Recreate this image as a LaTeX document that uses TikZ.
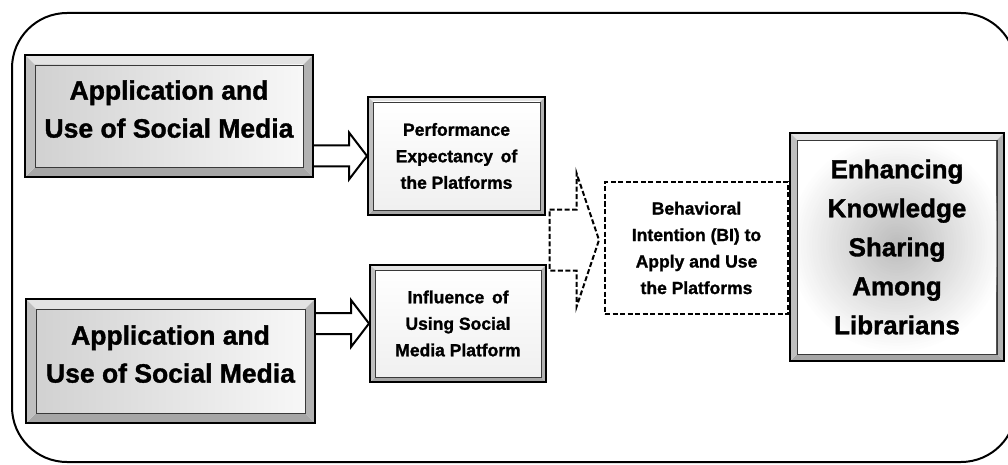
\documentclass[tikz,border=0pt]{standalone}
\usepackage{fontspec}
\setmainfont{Liberation Sans}
\newfontfamily\heavy[BoldFeatures={FakeBold=1.3}]{Liberation Sans}
\usetikzlibrary{calc}
\newcommand\bvl[6]{%
  \fill[gray!22] (#1,#2) -- (#3,#2) -- (#3-#5,#2+#5) -- (#1+#5,#2+#5) -- cycle;
  \fill[gray!70] (#1,#4) -- (#3,#4) -- (#3-#5,#4-#5) -- (#1+#5,#4-#5) -- cycle;
  \fill[gray!50] (#1,#2) -- (#1+#5,#2+#5) -- (#1+#5,#4-#5) -- (#1,#4) -- cycle;
  \fill[gray!60] (#3,#2) -- (#3-#5,#2+#5) -- (#3-#5,#4-#5) -- (#3,#4) -- cycle;
  \begin{scope}[y=1pt]
    \shade[#6] (#1+#5,-#2-#5) rectangle (#3-#5,-#4+#5);
  \end{scope}
  \draw[gray!45!black, line width=0.6pt] (#1+#5,#2+#5) rectangle (#3-#5,#4-#5);
}
\tikzset{
  boxframe/.style={draw=black, line width=2pt, align=center, inner sep=0pt},
  bigtext/.style={font=\heavy\bfseries\fontsize{26.5}{38}\selectfont},
  smalltext/.style={font=\heavy\bfseries\fontsize{17.5}{26.5}\selectfont},
  blockarrow/.style={draw=black, line width=2pt, fill=white, line join=miter},
  dashedline/.style={draw=black, line width=2pt, dash pattern=on 5pt off 2.5pt},
  outerframe/.style={draw=black, line width=2pt, rounded corners=55pt},
  glow/.style={path picture={
    \clip ($(path picture bounding box.south west)+(8,-8)$) rectangle ($(path picture bounding box.north east)+(-8,8)$);
    \fill[white] (path picture bounding box.south west) rectangle (path picture bounding box.north east);
    \foreach \k [evaluate=\k as \rr using 110-2.8*\k, evaluate=\k as \cc using 1.35*\k] in {0,...,38}
      {\fill[gray!\cc] ($(path picture bounding box.center)+(0,-3)$) circle (\rr);}
  }},
}
\begin{document}
\begin{tikzpicture}[x=1pt,y=-1pt]
\useasboundingbox (0,0) rectangle (1008,465);
\fill[white] (0,0) rectangle (1008,465);
\draw[outerframe] (12,13) rectangle (1016,462);

% bevel decorations
\bvl{25}{55}{313}{177}{10}{left color=gray!36, right color=gray!6}
\bvl{26}{299}{315}{423}{10}{left color=gray!36, right color=gray!6}
\bvl{368}{97}{545}{215}{5}{top color=white, bottom color=gray!12}
\bvl{370}{265}{546}{382}{5}{top color=white, bottom color=gray!12}
\bvl{790}{133}{1004}{361}{8}{top color=white, bottom color=white}

% nodes
\node[boxframe, bigtext, minimum width=288pt, minimum height=122pt, text depth=14pt] (a1) at (169,116)
  {Application and\\Use of Social Media};
\node[boxframe, bigtext, minimum width=289pt, minimum height=124pt, text depth=14pt] (a2) at (170.5,361)
  {Application and\\Use of Social Media};
\node[boxframe, smalltext, minimum width=177pt, minimum height=118pt] (p) at (456.5,156)
  {Performance\\Expectancy\, of\\the Platforms};
\node[boxframe, smalltext, minimum width=176pt, minimum height=117pt] (i) at (458,323.5)
  {Influence\, of\\Using Social\\Media Platform};
\node[dashedline, smalltext, align=center, inner sep=0pt, fill=white,
      minimum width=183pt, minimum height=132pt] (b) at (696.5,248)
  {Behavioral\\Intention (BI) to\\Apply and Use\\the Platforms};
\node[boxframe, glow, font=\heavy\bfseries\fontsize{26}{39}\selectfont, minimum width=214pt, minimum height=228pt] (e) at (897,247)
  {Enhancing\\Knowledge\\Sharing\\Among\\Librarians};
\draw[gray!45!black, line width=0.6pt] ($(e.south west)+(8,-8)$) rectangle ($(e.north east)+(-8,8)$);

% block arrows
\coordinate (s1) at (a1.east |- p.west);
\coordinate (h1) at ($(p.west)+(-18,0)$);
\draw[blockarrow] ($(s1)+(0,-10.5)$) -- ($(h1)+(0,-10.5)$) -- ($(h1)+(0,-23.5)$) -- (p.west)
  -- ($(h1)+(0,23.5)$) -- ($(h1)+(0,10.5)$) -- ($(s1)+(0,10.5)$);
\coordinate (s2) at (a2.east |- i.west);
\coordinate (h2) at ($(i.west)+(-18,0)$);
\draw[blockarrow] ($(s2)+(0,-10.5)$) -- ($(h2)+(0,-10.5)$) -- ($(h2)+(0,-23.5)$) -- (i.west)
  -- ($(h2)+(0,23.5)$) -- ($(h2)+(0,10.5)$) -- ($(s2)+(0,10.5)$);

% dashed merged arrow
\coordinate (m) at ($(p.south east)!0.5!(i.north east)$);
\coordinate (dtip) at ($(m -| b.west)+(-5,0)$);
\draw[dashedline, fill=white] ($(m)+(3,-30.5)$) -- ($(m)+(30,-30.5)$) -- ($(m)+(30,-67)$) -- (dtip)
  -- ($(m)+(30,67)$) -- ($(m)+(30,30.5)$) -- ($(m)+(3,30.5)$) -- cycle;
\end{tikzpicture}
\end{document}
